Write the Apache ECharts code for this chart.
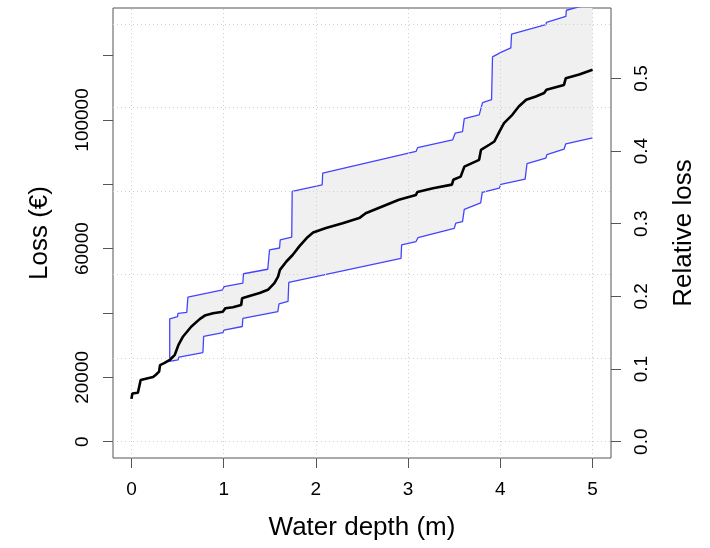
<!DOCTYPE html>
<html>
<head>
<meta charset="utf-8">
<script src="https://cdn.jsdelivr.net/npm/echarts@6/dist/echarts.min.js"></script>
<style>
  html, body { margin: 0; padding: 0; background: #fff; }
  #chart { width: 710px; height: 548px; }
</style>
</head>
<body>
<div id="chart"></div>
<script>
// water depth (m) / loss (EUR)
const medianDepth = [0, 0.01, 0.07, 0.1, 0.235, 0.265, 0.3, 0.31, 0.36, 0.415, 0.47, 0.51, 0.56, 0.65, 0.74, 0.795, 0.885, 0.99, 1.02, 1.1, 1.19, 1.2, 1.28, 1.39, 1.48, 1.55, 1.59, 1.61, 1.68, 1.75, 1.82, 1.9, 1.97, 2.11, 2.29, 2.47, 2.54, 2.72, 2.9, 3.085, 3.1, 3.27, 3.475, 3.49, 3.57, 3.61, 3.77, 3.79, 3.88, 3.935, 3.99, 4.04, 4.13, 4.2, 4.28, 4.385, 4.475, 4.5, 4.69, 4.71, 4.855, 5];
const medianLoss = [13300, 15000, 15200, 19200, 20100, 20800, 21800, 23800, 24500, 25400, 27000, 30100, 32700, 35800, 38100, 39200, 39900, 40400, 41500, 41800, 42500, 44600, 45300, 46200, 47200, 49300, 51300, 53400, 56000, 58100, 60700, 63300, 65000, 66400, 67900, 69500, 71000, 73100, 75200, 76700, 77600, 78800, 79900, 81400, 82400, 85500, 87600, 90700, 92300, 93300, 96400, 99000, 101600, 104200, 106300, 107300, 108400, 109400, 110900, 113000, 114100, 115600];

const upperDepth = [0.415, 0.415, 0.5, 0.505, 0.6, 0.612, 0.99, 1.005, 1.208, 1.215, 1.478, 1.497, 1.606, 1.613, 1.738, 1.743, 2.068, 2.074, 3.086, 3.103, 3.482, 3.51, 3.59, 3.609, 3.771, 3.807, 3.905, 3.915, 4.006, 4.114, 4.122, 4.493, 4.5, 4.71, 4.716, 5];
const upperLoss = [24900, 38200, 38900, 39900, 40200, 44900, 47200, 48200, 49300, 52200, 53600, 59600, 60200, 62700, 63600, 77800, 79800, 83500, 90200, 91400, 93800, 95900, 96400, 100400, 101600, 105400, 106300, 119600, 121000, 122400, 126700, 129600, 130300, 132200, 134100, 136300];

const lowerDepth = [0.396, 0.505, 0.515, 0.775, 0.783, 0.992, 1.003, 1.202, 1.208, 1.587, 1.6, 1.698, 1.706, 2.923, 2.93, 3.086, 3.107, 3.5, 3.517, 3.59, 3.609, 3.787, 3.804, 3.988, 4.006, 4.269, 4.289, 4.493, 4.505, 4.691, 4.71, 5];
const lowerLoss = [24900, 25400, 26300, 27700, 32700, 33900, 34700, 35800, 38300, 40400, 42800, 43600, 49500, 57000, 61200, 62200, 63400, 66300, 67900, 68400, 72200, 74200, 77500, 78800, 80000, 81600, 86400, 88100, 89200, 90900, 92600, 94400];

const xTicks = [0, 1, 2, 3, 4, 5];
const lossTicks = [0, 20000, 40000, 60000, 80000, 100000, 120000];
const lossLabels = [0, 20000, 60000, 100000];
const relTicks = [0, 0.1, 0.2, 0.3, 0.4, 0.5];
const gridLoss = [0, 25950, 51900, 77850, 103800, 129750];

const lossMin = -5070, lossMax = 134800;
const refValue = 225820; // loss that equals relative loss 1

const zip = (a, b) => a.map((v, i) => [v, b[i]]);

const font = "'Liberation Sans', Arial, sans-serif";
const axisCol = '#555';
const blue = '#4444ff';
const gridStyle = { color: '#d0d0d0', type: [1, 3], width: 1 };
const titleStyle = { fontFamily: font, fontSize: 26, color: '#000' };

const chart = echarts.init(document.getElementById('chart'));
chart.setOption({
  animation: false,
  grid: {
    left: 113, right: 99, top: 8, bottom: 90,
    show: true, borderColor: axisCol, borderWidth: 1,
  },
  xAxis: {
    type: 'value', min: -0.2, max: 5.2,
    name: 'Water depth (m)', nameLocation: 'middle', nameGap: 57,
    nameTextStyle: titleStyle,
    axisLine: { show: false, onZero: false },
    axisTick: { show: true, inside: false, customValues: xTicks, length: 10, lineStyle: { color: axisCol } },
    axisLabel: { customValues: xTicks, margin: 22, fontFamily: font, fontSize: 19, color: '#000' },
    splitLine: { show: false },
  },
  yAxis: [
    {
      type: 'value', min: lossMin, max: lossMax,
      name: 'Loss (€)', nameLocation: 'middle', nameGap: 60, nameRotate: 90,
      nameTextStyle: titleStyle,
      axisLine: { show: false, onZero: false },
      axisTick: { show: true, inside: false, customValues: lossTicks, length: 10, lineStyle: { color: axisCol } },
      axisLabel: {
        customValues: lossLabels, rotate: 90, margin: 21, fontFamily: font, fontSize: 19, color: '#000',
        formatter: v => String(v),
      },
      splitLine: { show: false },
    },
    {
      type: 'value', position: 'right', min: lossMin / refValue, max: lossMax / refValue,
      name: 'Relative loss', nameLocation: 'middle', nameGap: 60, nameRotate: 90,
      nameTextStyle: titleStyle,
      axisLine: { show: false, onZero: false },
      axisTick: { show: true, inside: false, customValues: relTicks, length: 10, lineStyle: { color: axisCol } },
      axisLabel: {
        customValues: relTicks, rotate: 90, margin: 21, fontFamily: font, fontSize: 19, color: '#000',
        formatter: v => v.toFixed(1),
      },
      splitLine: { show: false },
    },
  ],
  series: [
    {
      // grey band: fill under upper bound...
      type: 'line', z: 1, data: zip(upperDepth, upperLoss), symbol: 'none',
      lineStyle: { width: 0 }, areaStyle: { color: '#f0f0f0', opacity: 1 }, silent: true,
    },
    {
      // ...then white under lower bound
      type: 'line', z: 2, data: zip(lowerDepth, lowerLoss), symbol: 'none',
      lineStyle: { width: 0 }, areaStyle: { color: '#ffffff', opacity: 1 }, silent: true,
    },
    {
      type: 'line', z: 3, data: [], silent: true,
      markLine: {
        silent: true, symbol: 'none', label: { show: false },
        lineStyle: gridStyle,
        data: xTicks.map(v => ({ xAxis: v })).concat(gridLoss.map(v => ({ yAxis: v }))),
      },
    },
    {
      type: 'line', z: 4, data: zip(upperDepth, upperLoss), symbol: 'none',
      lineStyle: { color: blue, width: 1.3 },
    },
    {
      type: 'line', z: 4, data: zip(lowerDepth, lowerLoss), symbol: 'none',
      lineStyle: { color: blue, width: 1.3 },
    },
    {
      type: 'line', z: 5, data: zip(medianDepth, medianLoss), symbol: 'none',
      lineStyle: { color: '#000', width: 2.6 },
    },
  ],
});
</script>
</body>
</html>
